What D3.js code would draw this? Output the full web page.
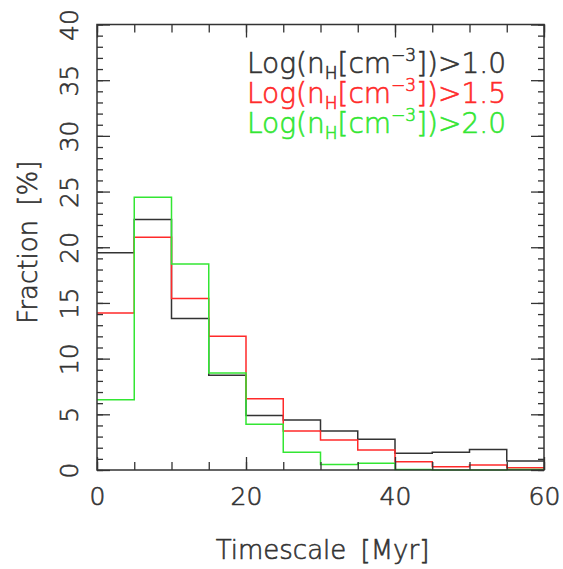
<!DOCTYPE html>
<html>
<head>
<meta charset="utf-8">
<script src="https://cdn.jsdelivr.net/npm/d3@7"></script>
<style>
  body { margin: 0; background: #fff; }
  text { font-family: "DejaVu Sans", sans-serif; font-weight: 200; stroke-width: 0.6px; }
</style>
</head>
<body>
<div id="chart"></div>
<script>
const svgWidth = 563;
const svgHeight = 569;

// bin edges in Myr
const binEdges = [0, 5, 10, 15, 20, 25, 30, 35, 40, 45, 50, 55, 60];

// fraction [%] per bin
const frac10 = [19.5, 22.5, 13.6, 8.5, 4.9, 4.5, 3.5, 2.75, 1.5, 1.6, 1.85, 0.8];
const frac15 = [14.1, 20.9, 15.4, 12.0, 6.4, 3.5, 2.7, 1.8, 0.75, 0.3, 0.45, 0.2];
const frac20 = [6.3, 24.5, 18.5, 8.7, 4.1, 1.6, 0.5, 0.6, 0.05, 0, 0, 0.05];

const seriesLabels = ['1.0', '1.5', '2.0'];
const seriesColors = ['#333333', '#ff2a2a', '#33e633'];

const xMajor = [0, 20, 40, 60];
const xMinor = [0, 5, 10, 15, 20, 25, 30, 35, 40, 45, 50, 55, 60];
const yMajor = [0, 5, 10, 15, 20, 25, 30, 35, 40];
const yMinor = d3.range(0, 41, 1);

const plot = { left: 97, right: 544, top: 24.5, bottom: 470 };

const x = d3.scaleLinear().domain([0, 60]).range([plot.left, plot.right]);
const y = d3.scaleLinear().domain([0, 40]).range([plot.bottom, plot.top]);

const svg = d3.select('#chart').append('svg')
  .attr('width', svgWidth).attr('height', svgHeight);

const axisColor = '#333';

// histograms as step lines
const line = d3.line().x(d => x(d[0])).y(d => y(d[1])).curve(d3.curveStepAfter);
[frac10, frac15, frac20].forEach((vals, i) => {
  const pts = vals.map((v, j) => [binEdges[j], v]);
  pts.push([binEdges[binEdges.length - 1], vals[vals.length - 1]]);
  svg.append('path')
    .attr('d', line(pts))
    .attr('fill', 'none')
    .attr('stroke', seriesColors[i])
    .attr('stroke-width', 1.5);
});

function styleAxis(g) {
  g.select('.domain').remove();
  g.selectAll('line').attr('stroke', axisColor).attr('stroke-width', 1.3);
  g.selectAll('text').attr('fill', '#333').attr('stroke', '#333').style('font-size', '25px')
    .style('font-family', '"DejaVu Sans", sans-serif');
}

// bottom axis
svg.append('g').attr('transform', `translate(0,${plot.bottom})`)
  .call(d3.axisBottom(x).tickValues(xMinor).tickSize(-8).tickFormat(''))
  .call(styleAxis);
svg.append('g').attr('transform', `translate(0,${plot.bottom})`)
  .call(d3.axisBottom(x).tickValues(xMajor).tickSize(-13).tickPadding(10).tickFormat(d3.format('d')))
  .call(styleAxis)
  .call(g => g.selectAll('text').attr('dy', null).attr('y', 35));

// top axis
svg.append('g').attr('transform', `translate(0,${plot.top})`)
  .call(d3.axisTop(x).tickValues(xMinor).tickSize(-8).tickFormat(''))
  .call(styleAxis);
svg.append('g').attr('transform', `translate(0,${plot.top})`)
  .call(d3.axisTop(x).tickValues(xMajor).tickSize(-13).tickFormat(''))
  .call(styleAxis);

// left axis
svg.append('g').attr('transform', `translate(${plot.left},0)`)
  .call(d3.axisLeft(y).tickValues(yMinor).tickSize(-6).tickFormat(''))
  .call(styleAxis);
const yAx = svg.append('g').attr('transform', `translate(${plot.left},0)`)
  .call(d3.axisLeft(y).tickValues(yMajor).tickSize(-13).tickFormat(d3.format('d')))
  .call(styleAxis);
yAx.selectAll('.tick text')
  .attr('x', null).attr('dy', null)
  .attr('text-anchor', 'middle')
  .attr('transform', `translate(${78 - plot.left},0) rotate(-90)`);

// right axis
svg.append('g').attr('transform', `translate(${plot.right},0)`)
  .call(d3.axisRight(y).tickValues(yMinor).tickSize(-6).tickFormat(''))
  .call(styleAxis);
svg.append('g').attr('transform', `translate(${plot.right},0)`)
  .call(d3.axisRight(y).tickValues(yMajor).tickSize(-13).tickFormat(''))
  .call(styleAxis);

// frame
svg.append('rect')
  .attr('x', plot.left).attr('y', plot.top)
  .attr('width', plot.right - plot.left).attr('height', plot.bottom - plot.top)
  .attr('fill', 'none').attr('stroke', axisColor).attr('stroke-width', 1.5);

// axis titles
svg.append('text')
  .attr('x', (plot.left + plot.right) / 2 + 2)
  .attr('y', 559)
  .attr('text-anchor', 'middle')
  .attr('fill', '#333').attr('stroke', '#333')
  .style('font-size', '26px')
  .style('word-spacing', '6px')
  .text('Timescale [Myr]');

svg.append('text')
  .attr('transform', `translate(37,${(plot.top + plot.bottom) / 2 - 5}) rotate(-90)`)
  .attr('text-anchor', 'middle')
  .attr('fill', '#333').attr('stroke', '#333')
  .style('font-size', '26px')
  .style('word-spacing', '6px')
  .text('Fraction [%]');

// legend
const legend = svg.append('g');
seriesLabels.forEach((lab, i) => {
  const t = legend.append('text')
    .attr('x', 247)
    .attr('y', 73 + i * 30)
    .attr('fill', seriesColors[i])
    .attr('stroke', seriesColors[i])
    .style('font-size', '28px');
  t.append('tspan').text('Log(n');
  t.append('tspan').attr('dy', 6).style('font-size', '17px').text('H');
  t.append('tspan').attr('dy', -6).text('[cm');
  t.append('tspan').attr('dy', -12).style('font-size', '17px').text('−3');
  t.append('tspan').attr('dy', 12).text('])>' + lab);
});
</script>
</body>
</html>
